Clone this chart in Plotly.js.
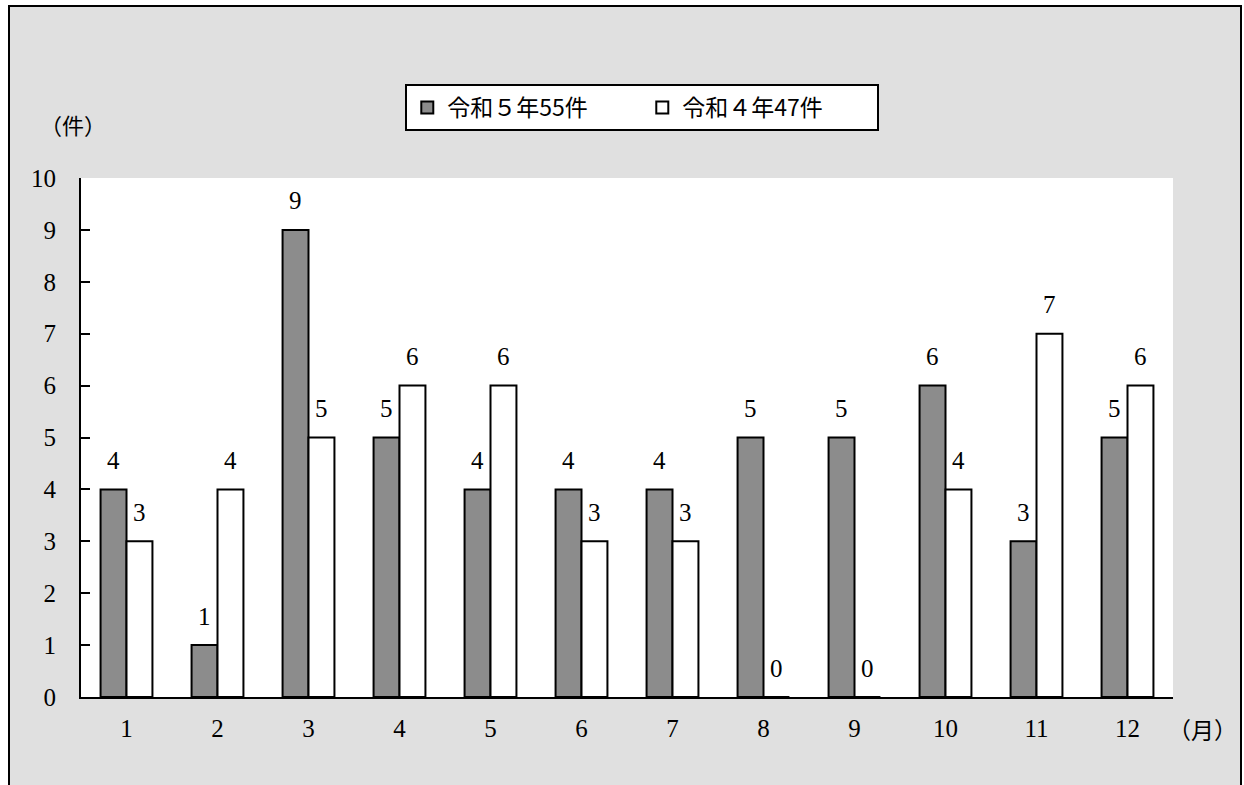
<!DOCTYPE html>
<html>
<head>
<meta charset="utf-8">
<script src="https://cdn.plot.ly/plotly-3.0.1.min.js"></script>
<style>
  html, body { margin: 0; padding: 0; background: #ffffff; }
  #frame { position: absolute; left: 8px; top: 5px; width: 1234px; height: 800px;
           background: #e0e0e0; border: 2px solid #000; box-sizing: border-box; }
  #chart { position: absolute; left: 0; top: 0; width: 1244px; height: 785px; }
</style>
</head>
<body>
<div id="frame"></div>
<div id="chart"></div>
<script>
const months = ['1','2','3','4','5','6','7','8','9','10','11','12'];
const r5 = [4, 1, 9, 5, 4, 4, 4, 5, 5, 6, 3, 5];
const r4 = [3, 4, 5, 6, 6, 3, 3, 0, 0, 4, 7, 6];
const seriesNames = ['令和５年55件', '令和４年47件'];
const yTicks = [0,1,2,3,4,5,6,7,8,9,10];

const serif = 'Liberation Serif, DejaVu Serif, serif';
const cjk = 'Noto Sans CJK JP, sans-serif';

const traces = [
  { type: 'bar', name: seriesNames[0], x: months, y: r5,
    marker: { color: '#8c8c8c', line: { color: '#000', width: 2 } } },
  { type: 'bar', name: seriesNames[1], x: months, y: r4,
    marker: { color: '#ffffff', line: { color: '#000', width: 2 } } }
];

const annotations = [];
months.forEach((m, i) => {
  annotations.push({ x: i, y: r5[i], xref: 'x', yref: 'y', text: String(r5[i]),
    showarrow: false, xshift: -13, yshift: 29, yanchor: 'middle',
    font: { family: serif, size: 25, color: '#000' } });
  annotations.push({ x: i, y: r4[i], xref: 'x', yref: 'y', text: String(r4[i]),
    showarrow: false, xshift: 13, yshift: 29, yanchor: 'middle',
    font: { family: serif, size: 25, color: '#000' } });
});
annotations.push({ xref: 'paper', yref: 'paper', x: -0.007, y: 1.104, text: '（件）',
  showarrow: false, xanchor: 'center', yanchor: 'middle',
  font: { family: cjk, size: 22, color: '#000' } });
annotations.push({ xref: 'paper', yref: 'paper', x: 1.027, y: -0.062, text: '（月）',
  showarrow: false, xanchor: 'center', yanchor: 'middle',
  font: { family: cjk, size: 23, color: '#000' } });

const layout = {
  width: 1244, height: 785,
  margin: { l: 81, r: 71, t: 178, b: 88 },
  paper_bgcolor: 'rgba(0,0,0,0)',
  plot_bgcolor: '#ffffff',
  barmode: 'group',
  bargap: 0.43,
  bargroupgap: 0,
  showlegend: true,
  legend: {
    orientation: 'h', x: 0.514, xanchor: 'center', y: 1.181, yanchor: 'top',
    bgcolor: '#ffffff', bordercolor: '#000', borderwidth: 2,
    font: { family: cjk, size: 23, color: '#000' },
    entrywidth: 190, entrywidthmode: 'pixels',
    traceorder: 'normal'
  },
  xaxis: {
    type: 'category', range: [-0.5, 11.5],
    showline: true, linecolor: '#000', linewidth: 2,
    ticks: '', showgrid: false, zeroline: false,
    tickfont: { family: serif, size: 25, color: '#000' },
    ticklabelstandoff: 8
  },
  yaxis: {
    range: [0, 10], tickvals: yTicks, ticktext: yTicks.map(String),
    showline: true, linecolor: '#000', linewidth: 2,
    ticks: 'inside', ticklen: 9, tickwidth: 2, tickcolor: '#000',
    showgrid: false, zeroline: false,
    tickfont: { family: serif, size: 25, color: '#000' },
    ticklabelstandoff: 18
  },
  annotations: annotations
};

Plotly.newPlot('chart', traces, layout, { displayModeBar: false, staticPlot: true });
</script>
</body>
</html>
